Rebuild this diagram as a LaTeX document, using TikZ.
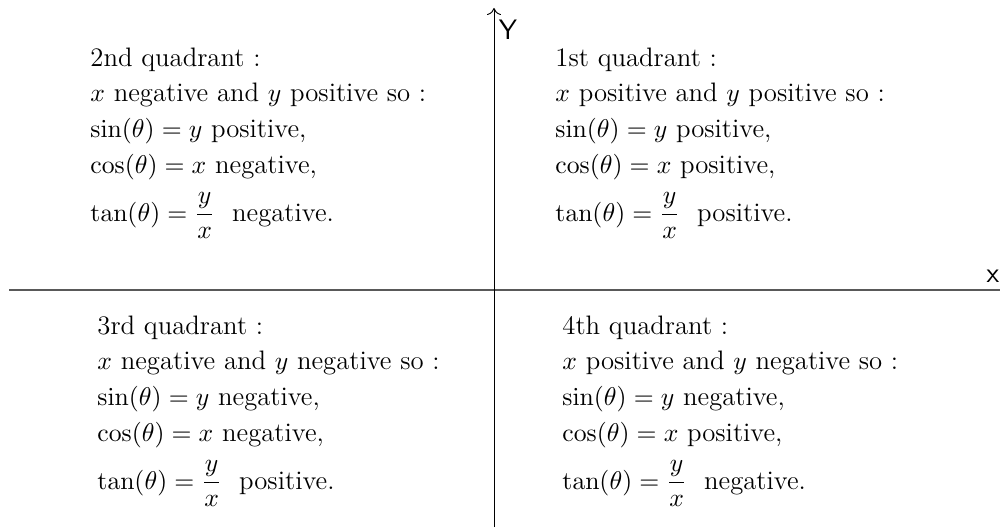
\documentclass[tikz,border=0pt]{standalone}
\usepackage{amsmath}
\usetikzlibrary{arrows.meta}
\tikzset{quad/.style={anchor=north west,align=left,inner sep=0pt,font={\fontsize{11.4}{15.3}\selectfont}}}
\begin{document}
\begin{tikzpicture}[x=0.015cm,y=0.015cm]
\useasboundingbox (0,0) rectangle (1000,527);
\draw[black!65,line width=0.7pt] (9,237) coordinate (xl) -- (1000,237) coordinate (xr);
\draw[-{To[length=3pt,width=6pt]}] (494,0) coordinate (yb) -- (494,519) coordinate (yt);
\node[font=\large\sffamily] (xlab) at (993,251) {x};
\node[font=\large\sffamily] (ylab) at (508,497) {Y};
\node[quad] (q2) at (90,480) {2nd quadrant :\\ $x$ negative and $y$ positive so :\\ $\sin(\theta)=y$ positive,\\ $\cos(\theta)=x$ negative,\\[5pt] $\tan(\theta)=\dfrac{y}{x}$\ \ negative.};
\node[quad] (q1) at (555,480) {1st quadrant :\\ $x$ positive and $y$ positive so :\\ $\sin(\theta)=y$ positive,\\ $\cos(\theta)=x$ positive,\\[5pt] $\tan(\theta)=\dfrac{y}{x}$\ \ positive.};
\node[quad] (q3) at (97,212) {3rd quadrant :\\ $x$ negative and $y$ negative so :\\ $\sin(\theta)=y$ negative,\\ $\cos(\theta)=x$ negative,\\[5pt] $\tan(\theta)=\dfrac{y}{x}$\ \ positive.};
\node[quad] (q4) at (562,212) {4th quadrant :\\ $x$ positive and $y$ negative so :\\ $\sin(\theta)=y$ negative,\\ $\cos(\theta)=x$ positive,\\[5pt] $\tan(\theta)=\dfrac{y}{x}$\ \ negative.};
\end{tikzpicture}
\end{document}
